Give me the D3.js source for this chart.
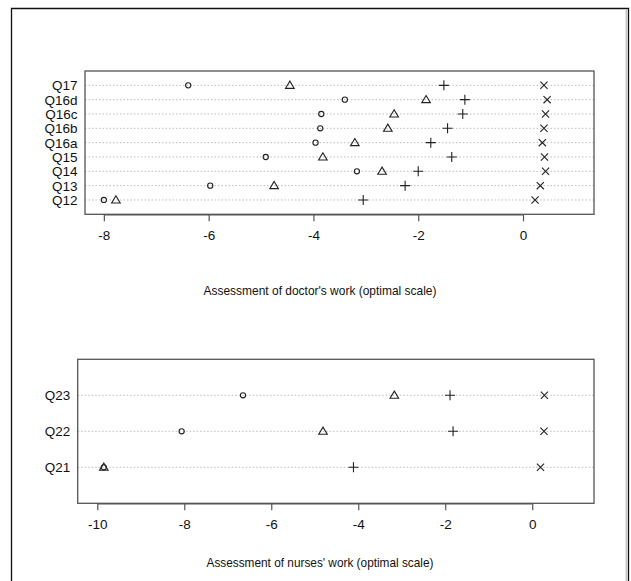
<!DOCTYPE html>
<html><head><meta charset="utf-8">
<script src="https://cdn.jsdelivr.net/npm/d3@7"></script>
<style>body{margin:0;background:#fff}svg{display:block}text{font-family:"Liberation Sans",Arial,sans-serif;fill:#111}</style>
</head><body>
<script>
const doctorItems = ["Q12","Q13","Q14","Q15","Q16a","Q16b","Q16c","Q16d","Q17"];
const docCircle   = [-8.00,-5.97,-3.17,-4.91,-3.96,-3.87,-3.85,-3.40,-6.39];
const docTriangle = [-7.77,-4.75,-2.69,-3.82,-3.21,-2.58,-2.46,-1.85,-4.45];
const docPlus     = [-3.05,-2.25,-2.00,-1.36,-1.76,-1.44,-1.15,-1.11,-1.51];
const docCross    = [0.23,0.33,0.43,0.41,0.37,0.40,0.43,0.46,0.40];
const docTicks = [-8,-6,-4,-2,0];
const docTitle = "Assessment of doctor's work (optimal scale)";

const nurseItems = ["Q21","Q22","Q23"];
const nurseCircle   = [-9.85,-8.06,-6.65];
const nurseTriangle = [-9.85,-4.81,-3.17];
const nursePlus     = [-4.11,-1.82,-1.89];
const nurseCross    = [0.19,0.27,0.28];
const nurseTicks = [-10,-8,-6,-4,-2,0];
const nurseTitle = "Assessment of nurses' work (optimal scale)";

const W = 631, H = 581;
const svg = d3.select("body").append("svg").attr("width", W).attr("height", H);

// outer frame
svg.append("path").attr("d", `M11.5,${H} V8.5 H628.5 V${H}`).attr("fill","none").attr("stroke","#111").attr("stroke-width",1.3);
svg.append("line").attr("x1",626.5).attr("x2",626.5).attr("y1",9).attr("y2",H).attr("stroke","#c8c8c8").attr("stroke-width",2);

const symbols = {
  circle: (g, x, y) => g.append("circle").attr("cx", x).attr("cy", y).attr("r", 2.6),
  triangle: (g, x, y) => g.append("path").attr("d", `M${x},${y-4.2} L${x+4.3},${y+3} L${x-4.3},${y+3} Z`),
  plus: (g, x, y) => g.append("path").attr("d", `M${x-5},${y} H${x+5} M${x},${y-5} V${y+5}`),
  cross: (g, x, y) => g.append("path").attr("d", `M${x-3.6},${y-3.6} L${x+3.6},${y+3.6} M${x-3.6},${y+3.6} L${x+3.6},${y-3.6}`)
};

function panel(cfg) {
  const x = d3.scaleLinear().domain(cfg.xdom).range([cfg.left, cfg.right]);
  const n = cfg.items.length;
  const y = d3.scaleLinear().domain([0, n + 1]).range([cfg.bottom, cfg.top]);
  const g = svg.append("g");
  g.selectAll("line.grid").data(cfg.items).enter().append("line")
    .attr("x1", cfg.left).attr("x2", cfg.right)
    .attr("y1", (d,i) => y(i+1)).attr("y2", (d,i) => y(i+1))
    .attr("stroke", "#bdbdbd").attr("stroke-width", 1).attr("stroke-dasharray", "1.5,2");
  g.selectAll("text.lab").data(cfg.items).enter().append("text")
    .attr("x", cfg.left - 7.5).attr("y", (d,i) => y(i+1)).attr("dy", "0.36em")
    .attr("text-anchor", "end").attr("font-size", 13.5).text(d => d);
  const series = [[cfg.circle,"circle"],[cfg.triangle,"triangle"],[cfg.plus,"plus"],[cfg.cross,"cross"]];
  const pg = g.append("g").attr("fill","none").attr("stroke","#222").attr("stroke-width",1.1);
  series.forEach(([vals, sym]) => {
    vals.forEach((v, i) => symbols[sym](pg, x(v), y(i+1)));
  });
  g.append("rect").attr("x", cfg.left).attr("y", cfg.top).attr("width", cfg.right - cfg.left).attr("height", cfg.bottom - cfg.top)
    .attr("fill","none").attr("stroke","#555").attr("stroke-width",1.3);
  const ax = d3.axisBottom(x).tickValues(cfg.ticks).tickSize(7).tickPadding(9).tickFormat(d3.format("d"));
  const axg = g.append("g").attr("transform", `translate(0,${cfg.bottom})`).call(ax);
  axg.select(".domain").attr("stroke","#555").attr("stroke-width",1.3)
     .attr("d", `M${x(cfg.ticks[0])},0.5 H${x(cfg.ticks[cfg.ticks.length-1])}`);
  axg.selectAll(".tick line").attr("stroke","#555").attr("stroke-width",1.2);
  axg.selectAll(".tick text").attr("font-size", 13.5).attr("fill","#111").style("font-family", '"Liberation Sans",Arial,sans-serif')
     .text(d => d < 0 ? "-" + Math.abs(d) : String(d));
  g.append("text").attr("x", 320).attr("y", cfg.titleY).attr("text-anchor","middle").attr("font-size", 13.5)
    .attr("textLength", cfg.titleLen).attr("lengthAdjust","spacingAndGlyphs").text(cfg.title);
}

panel({items: doctorItems, circle: docCircle, triangle: docTriangle, plus: docPlus, cross: docCross,
  ticks: docTicks, title: docTitle, titleLen: 233, xdom: [-8.36, 1.355], left: 85, right: 594, top: 71, bottom: 214.3, titleY: 295});
panel({items: nurseItems, circle: nurseCircle, triangle: nurseTriangle, plus: nursePlus, cross: nurseCross,
  ticks: nurseTicks, title: nurseTitle, titleLen: 227, xdom: [-10.45, 1.42], left: 77.7, right: 594, top: 359.3, bottom: 503.3, titleY: 567});
</script>
</body></html>
